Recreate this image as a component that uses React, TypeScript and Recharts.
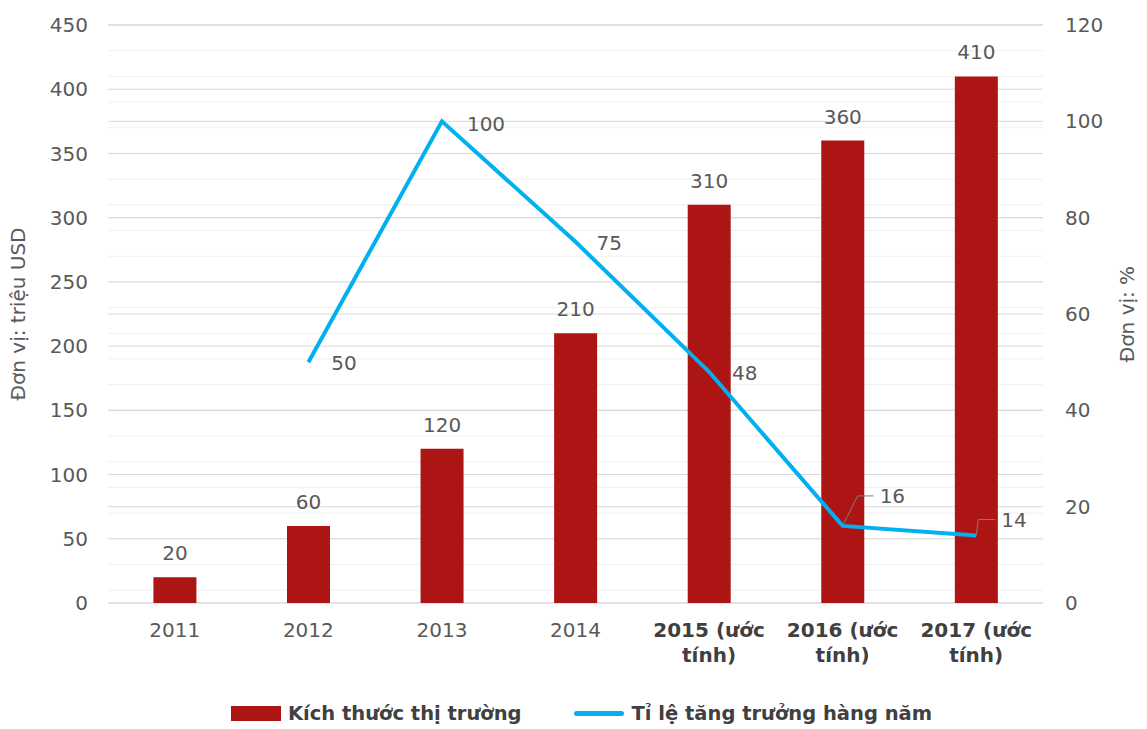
import React from 'react';
import { Bar, CartesianGrid, ComposedChart, LabelList, Line, XAxis, YAxis } from 'recharts';

// Data
const years = ['2011', '2012', '2013', '2014', '2015 (ước tính)', '2016 (ước tính)', '2017 (ước tính)'];
const marketSize = [20, 60, 120, 210, 310, 360, 410];
const growthRate: (number | null)[] = [null, 50, 100, 75, 48, 16, 14];

const leftTicks = [0, 50, 100, 150, 200, 250, 300, 350, 400, 450];
const rightTicks = [0, 20, 40, 60, 80, 100, 120];
const leftMinor = Array.from({ length: 46 }, (_, i) => i * 10);

const chartData = years.map((year, i) => ({
  year,
  size: marketSize[i],
  growth: growthRate[i],
}));

const BAR_RED = '#AD1515';
const LINE_BLUE = '#00B0F0';
const TEXT = '#595959';
const FONT = '"DejaVu Sans", sans-serif';

// label placement for the growth line (relative to the point)
const growthLabelOffset: Record<number, { dx: number; dy: number; leader?: boolean }> = {
  1: { dx: 23, dy: 1 },
  2: { dx: 25, dy: 3 },
  3: { dx: 21, dy: 1 },
  4: { dx: 23, dy: 1 },
  5: { dx: 37, dy: -30, leader: true },
  6: { dx: 25, dy: -16, leader: true },
};

const GrowthLabel = (props: any) => {
  const { x, y, value, index } = props;
  if (value == null) return null;
  const off = growthLabelOffset[index] || { dx: 20, dy: 0 };
  const tx = x + off.dx;
  const ty = y + off.dy;
  return (
    <g>
      {off.leader && (
        <polyline
          points={`${x},${y} ${x + (index === 5 ? 15 : 2)},${ty} ${tx - 6},${ty}`}
          fill='none'
          stroke='#7F7F7F'
          strokeWidth={1}
        />
      )}
      <text x={tx} y={ty} dominantBaseline='central' fontSize={20} fill={TEXT} fontFamily={FONT}>
        {value}
      </text>
    </g>
  );
};

const YearTick = (props: any) => {
  const { x, y, payload } = props;
  const parts: string[] = payload.value.split(' ');
  const estimated = parts.length > 1;
  const lines = estimated ? [parts.slice(0, 2).join(' '), parts.slice(2).join(' ')] : [payload.value];
  return (
    <text
      x={x}
      y={y}
      textAnchor='middle'
      fontSize={20}
      fontFamily={FONT}
      fill={estimated ? '#404040' : TEXT}
      fontWeight={estimated ? 'bold' : 'normal'}
    >
      {lines.map((line, i) => (
        <tspan key={i} x={x} dy={i === 0 ? 32 : 25}>
          {line}
        </tspan>
      ))}
    </text>
  );
};

export default function App() {
  return (
    <div style={{ position: 'absolute', left: 0, top: 0, width: 1147, height: 729, background: '#fff' }}>
      <ComposedChart
        width={1147}
        height={729}
        data={chartData}
        margin={{ top: 25, right: 4, bottom: 56, left: 8 }}
        barCategoryGap='34%'
      >
        <CartesianGrid yAxisId='left' vertical={false} horizontalValues={leftMinor} stroke='#F0F0F0' fill='none' />
        <CartesianGrid yAxisId='left' vertical={false} horizontalValues={leftTicks} stroke='#D9D9D9' fill='none' />
        <CartesianGrid yAxisId='right' vertical={false} horizontalValues={rightTicks} stroke='#D9D9D9' fill='none' />
        <XAxis
          dataKey='year'
          height={70}
          axisLine={false}
          tickLine={false}
          tickSize={0}
          interval={0}
          tick={<YearTick />}
        />
        <YAxis
          yAxisId='left'
          width={100}
          domain={[0, 450]}
          ticks={leftTicks}
          axisLine={false}
          tickLine={false}
          tickSize={0}
          tickMargin={20}
          tick={{ fontSize: 20, fill: TEXT, fontFamily: FONT }}
          label={{
            value: 'Đơn vị: triệu USD',
            angle: -90,
            position: 'insideLeft',
            offset: 10,
            style: { fontSize: 20, fill: TEXT, fontFamily: FONT, textAnchor: 'middle' },
          }}
        />
        <YAxis
          yAxisId='right'
          orientation='right'
          width={100}
          domain={[0, 120]}
          ticks={rightTicks}
          axisLine={false}
          tickLine={false}
          tickSize={0}
          tickMargin={22}
          tick={{ fontSize: 20, fill: TEXT, fontFamily: FONT, textAnchor: 'start' }}
          label={{
            value: 'Đơn vị: %',
            angle: -90,
            position: 'insideRight',
            offset: 16,
            style: { fontSize: 20, fill: TEXT, fontFamily: FONT, textAnchor: 'middle' },
          }}
        />
        <Bar yAxisId='left' dataKey='size' fill={BAR_RED} isAnimationActive={false}>
          <LabelList
            dataKey='size'
            position='top'
            offset={17}
            style={{ fontSize: 20, fill: TEXT, fontFamily: FONT }}
          />
        </Bar>
        <Line
          yAxisId='right'
          type='linear'
          dataKey='growth'
          stroke={LINE_BLUE}
          strokeWidth={4}
          dot={false}
          activeDot={false}
          isAnimationActive={false}
        >
          <LabelList dataKey='growth' content={<GrowthLabel />} />
        </Line>
      </ComposedChart>
      {/* Legend */}
      <div
        style={{
          position: 'absolute',
          top: 702,
          left: 0,
          width: 1147,
          display: 'flex',
          justifyContent: 'center',
          alignItems: 'center',
          fontFamily: FONT,
          fontSize: 19.5,
          fontWeight: 'bold',
          color: '#404040',
          transform: 'translateX(8px)',
        }}
      >
        <div style={{ display: 'flex', alignItems: 'center', marginRight: 52 }}>
          <div style={{ width: 50, height: 15, background: BAR_RED, marginRight: 7 }} />
          <span>Kích thước thị trường</span>
        </div>
        <div style={{ display: 'flex', alignItems: 'center' }}>
          <div style={{ width: 50, height: 5, background: LINE_BLUE, borderRadius: 3, marginRight: 8 }} />
          <span>Tỉ lệ tăng trưởng hàng năm</span>
        </div>
      </div>
    </div>
  );
}
